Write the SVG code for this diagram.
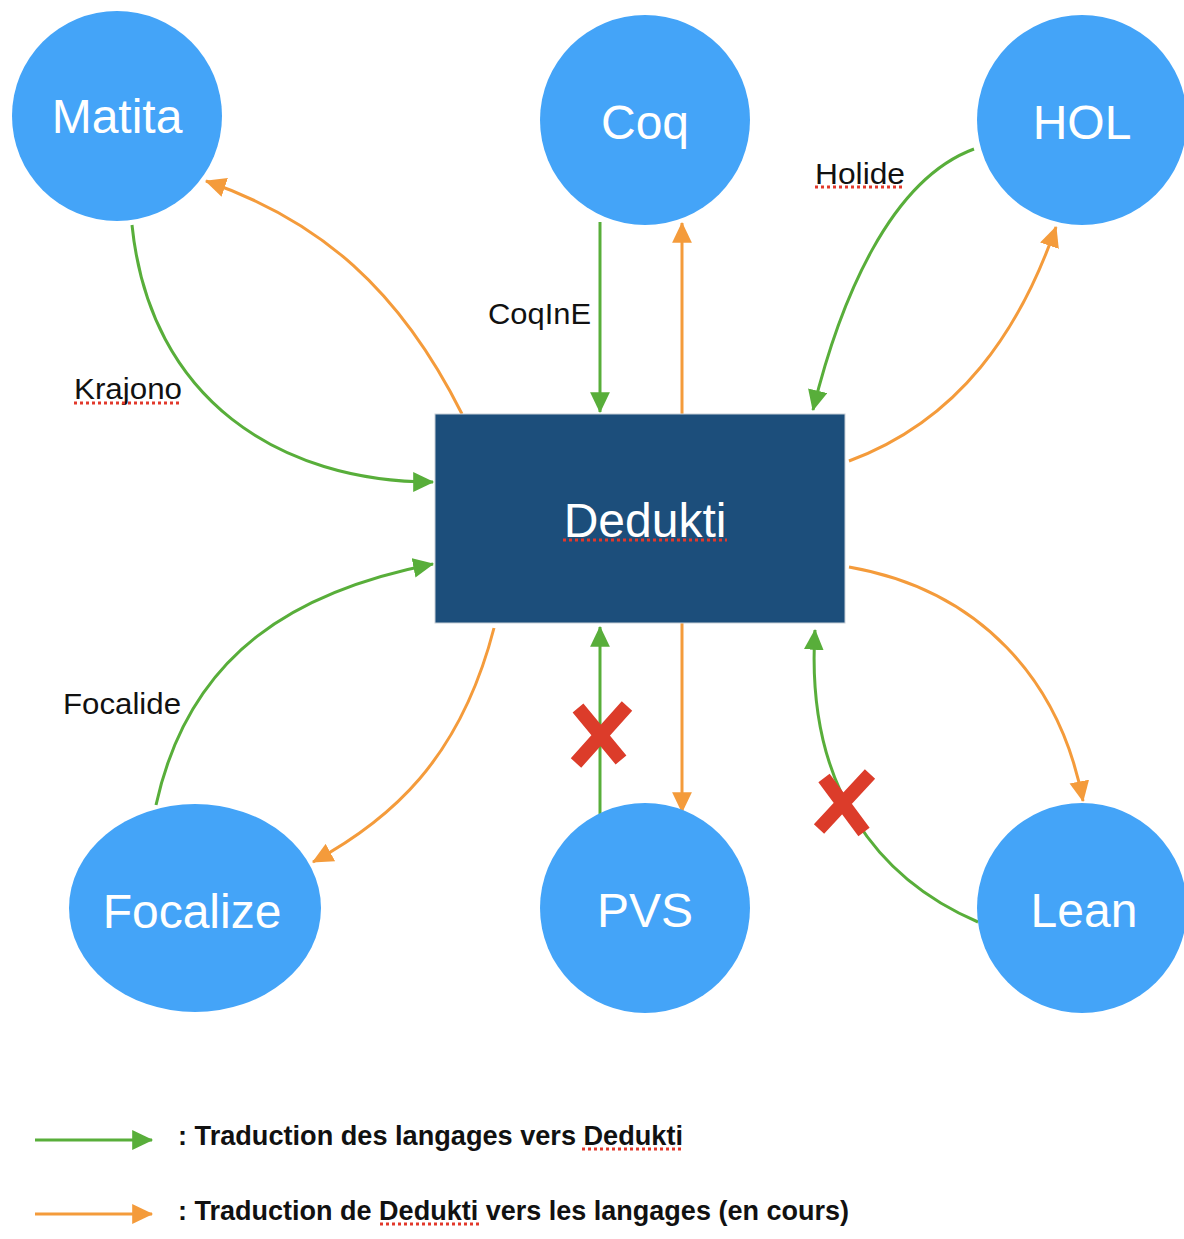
<svg xmlns="http://www.w3.org/2000/svg" width="1184" height="1239" viewBox="0 0 1184 1239">
<style>
.node{fill:#44a4f8}
.nt{font-family:"Liberation Sans",Arial,sans-serif;font-size:48px;fill:#ffffff;text-anchor:middle}
.lbl{font-family:"Liberation Sans",Arial,sans-serif;font-size:30px;fill:#111111}
.leg{font-family:"Liberation Sans",Arial,sans-serif;font-size:27px;font-weight:bold;fill:#111111}
.g{fill:none;stroke:#58ae3a;stroke-width:3;marker-end:url(#ag)}
.o{fill:none;stroke:#f49b3b;stroke-width:3;marker-end:url(#ao)}
.sp{stroke:#e2382b;stroke-width:3;stroke-dasharray:3 3;fill:none}
.x{stroke:#dc3c2a;stroke-width:14;stroke-linecap:butt;fill:none}
</style>
<defs>
<marker id="ag" markerUnits="userSpaceOnUse" markerWidth="22" markerHeight="20" refX="18" refY="9" orient="auto" viewBox="0 0 20 18"><path d="M0,0 L19,9 L0,18 Z" fill="#58ae3a"/></marker>
<marker id="ao" markerUnits="userSpaceOnUse" markerWidth="22" markerHeight="20" refX="18" refY="9" orient="auto" viewBox="0 0 20 18"><path d="M0,0 L19,9 L0,18 Z" fill="#f49b3b"/></marker>
</defs>
<rect width="1184" height="1239" fill="#ffffff"/>
<g id="connectors">
<path class="g" d="M132,225 C150,400 280,482 433,482"/>
<path class="o" d="M462,414 C400,290 320,220 206,181"/>
<path class="g" d="M600,222 L600,412"/>
<path class="o" d="M682,414 L682,223"/>
<path class="g" d="M974,149 C890,180 840,300 813,410"/>
<path class="o" d="M849,461 C960,420 1020,330 1056,227"/>
<path class="g" d="M156,805 C190,650 300,590 433,564"/>
<path class="o" d="M494,628 C460,760 390,820 313,862"/>
<path class="g" d="M600,815 L600,627"/>
<path class="o" d="M682,623 L682,812"/>
<path class="g" d="M978,922 C880,880 805,790 815,630"/>
<path class="o" d="M849,567 C980,590 1060,680 1083,801"/>
</g>
<g id="dedukti">
<rect x="435" y="414" width="410" height="209" fill="#1c4e7b" stroke="#c8d0d8" stroke-width="1"/>
<text class="nt" x="645" y="537">Dedukti</text>
<line class="sp" x1="563" y1="540" x2="727" y2="540"/>
</g>
<g id="matita"><circle class="node" cx="117" cy="116" r="105"/><text class="nt" x="117" y="133">Matita</text></g>
<g id="coq"><circle class="node" cx="645" cy="120" r="105"/><text class="nt" x="645" y="139">Coq</text></g>
<g id="hol"><circle class="node" cx="1082" cy="120" r="105"/><text class="nt" x="1082" y="139">HOL</text></g>
<g id="focalize"><ellipse class="node" cx="195" cy="908" rx="126" ry="104"/><text class="nt" x="192" y="928">Focalize</text></g>
<g id="pvs"><circle class="node" cx="645" cy="908" r="105"/><text class="nt" x="645" y="927">PVS</text></g>
<g id="lean"><circle class="node" cx="1082" cy="908" r="105"/><text class="nt" x="1084" y="927">Lean</text></g>
<g id="labels">
<text class="lbl" x="815" y="184" textLength="90" lengthAdjust="spacingAndGlyphs">Holide</text>
<line class="sp" x1="815" y1="187" x2="905" y2="187"/>
<text class="lbl" x="488" y="324" textLength="103" lengthAdjust="spacingAndGlyphs">CoqInE</text>
<text class="lbl" x="74" y="399" textLength="108" lengthAdjust="spacingAndGlyphs">Krajono</text>
<line class="sp" x1="74" y1="403" x2="182" y2="403"/>
<text class="lbl" x="63" y="714" textLength="118" lengthAdjust="spacingAndGlyphs">Focalide</text>
</g>
<g id="crosses">
<path class="x" d="M578,708 L621,760 M627,706 L576,763"/>
<path class="x" d="M824,778 L864,832 M870,774 L819,829"/>
</g>
<g id="legend">
<line class="g" x1="35" y1="1140" x2="152" y2="1140"/>
<text class="leg" x="178" y="1145" textLength="505" lengthAdjust="spacingAndGlyphs">: Traduction des langages vers Dedukti</text>
<line class="sp" x1="582" y1="1149" x2="683" y2="1149"/>
<line class="o" x1="35" y1="1214" x2="152" y2="1214"/>
<text class="leg" x="178" y="1220" textLength="671" lengthAdjust="spacingAndGlyphs">: Traduction de Dedukti vers les langages (en cours)</text>
<line class="sp" x1="380" y1="1224" x2="481" y2="1224"/>
</g>
</svg>
